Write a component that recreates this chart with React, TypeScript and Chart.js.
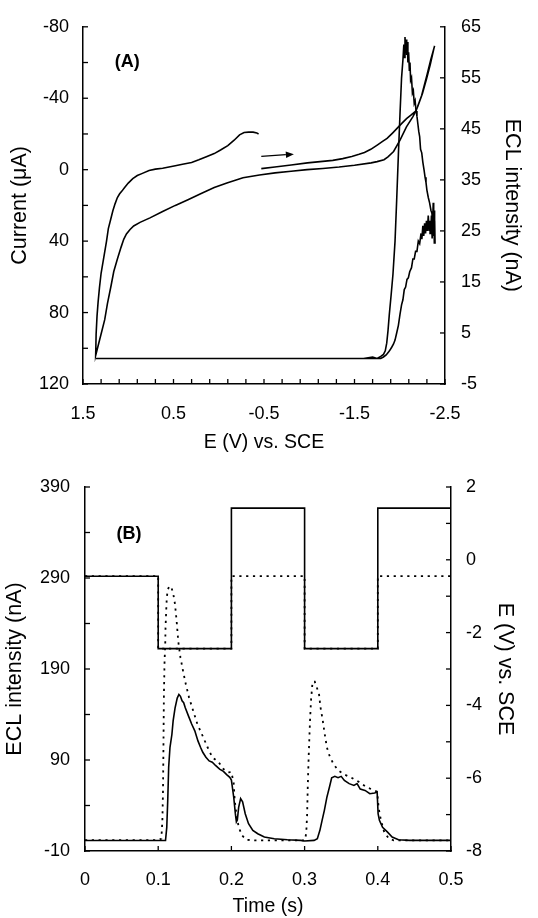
import React, { useEffect, useRef } from 'react';
import { Chart, registerables } from 'chart.js';

Chart.register(...registerables);

// ---------------- Panel (A): cyclic voltammogram + ECL vs potential ----------------
// Scan order: start -0.47 V -> -2.385 V -> +1.36 V -> -0.44 V
const cvPotential = [
  -0.47, -0.62, -0.8, -0.98, -1.12, -1.26, -1.37, -1.47, -1.55, -1.61, -1.68, -1.755, -1.81, -1.86, -1.92, -1.97, -2.02, -2.075, -2.13, -2.18,
  -2.242, -2.303, -2.344, -2.385,
  -2.376, -2.338, -2.297, -2.25, -2.2, -2.18, -2.144, -2.074, -2.003, -1.932, -1.87, -1.826, -1.75, -1.684, -1.5, -1.33, -1.15, -0.976, -0.8, -0.622, -0.45, -0.268,
  -0.09, 0.05, 0.2, 0.34, 0.48, 0.62, 0.76, 0.87, 0.94, 0.98, 1.02, 1.05, 1.08, 1.12, 1.16, 1.19, 1.23, 1.26, 1.3, 1.335, 1.36,
  1.355, 1.345, 1.333, 1.318, 1.3, 1.28, 1.26, 1.24, 1.22, 1.195, 1.17, 1.145, 1.12, 1.095, 1.07, 1.04, 1.0, 0.95, 0.9, 0.85, 0.77, 0.7, 0.62, 0.55, 0.48,
  0.4, 0.3, 0.22, 0.13, 0.05, -0.02, -0.1, -0.17, -0.23, -0.28, -0.33, -0.38, -0.42, -0.44,
];
const cvCurrent = [
  -0.6, -1.5, -2.6, -3.8, -4.5, -5.2, -6.2, -7.4, -8.6, -9.6, -11.4, -13.9, -15.8, -17.5, -20.5, -23.1, -25.8, -28.6, -30.8, -33.0,
  -41.5, -53.5, -61.8, -69.3,
  -67.5, -59, -51, -42.5, -35.5, -33, -29.6, -24, -16.6, -10.2, -7.2, -5.6, -4.5, -3.8, -2.5, -1.5, -0.7, -0.05, 0.9, 1.8, 3.0, 4.5,
  7.4, 10, 13.5, 16.8, 20, 23.4, 27, 29.5, 31.5, 33.5, 36, 39, 43.5, 50, 57, 65, 75, 84, 92, 99, 104,
  92, 82, 74, 66, 58, 52, 46, 40, 33, 28, 23, 19, 15.6, 13.5, 12, 10, 7.5, 5, 3.3, 2.2, 0.5, -0.3, -0.8, -1.5, -2.2,
  -3, -4, -5.5, -7.4, -9, -11, -13.5, -16.5, -19.5, -20.8, -21, -21, -20.6, -20,
];

const eclPotentialA = [
  -0.47, -0.9, -1.3, -1.6, -1.7, -1.75, -1.79, -1.82, -1.84, -1.856, -1.87, -1.885, -1.905, -1.925, -1.948, -1.966, -1.985, -2.003, -2.02, -2.035,
  -2.045, -2.052, -2.058, -2.064, -2.07, -2.077, -2.084, -2.09, -2.098, -2.106, -2.113, -2.12, -2.13, -2.14, -2.15, -2.16, -2.17, -2.18, -2.19, -2.2,
  -2.21, -2.22, -2.23, -2.243, -2.255, -2.268, -2.28, -2.29, -2.3, -2.316, -2.33, -2.345, -2.355, -2.364, -2.37, -2.375, -2.38, -2.385, -2.39,
  -2.386, -2.382, -2.377, -2.372, -2.365, -2.358, -2.35, -2.342, -2.335, -2.325, -2.315, -2.305, -2.295, -2.285, -2.275, -2.265, -2.255, -2.245, -2.235, -2.22,
  -2.205, -2.19, -2.175, -2.16, -2.145, -2.13, -2.11, -2.095, -2.08, -2.065, -2.05, -2.035, -2.02, -2.003, -1.985, -1.966, -1.948, -1.93, -1.911, -1.89,
  -1.874, -1.85, -1.82, -1.79, -1.6, -1.3, -1.0, -0.6, -0.2, 0.2, 0.6, 0.9, 1.2, 1.36, 0.5, -0.45,
];
const eclIntensityA = [
  0, 0, 0, 0, 0.3, 0, 0.4, 0.8, 1.5, 3, 5.4, 8.7, 12.5, 16.5, 23, 31, 40, 48, 55, 58.5,
  61.5, 59, 63, 60, 62.5, 59.5, 62, 58, 60, 56.5, 58, 54.5, 55, 52, 52.5, 50, 50.5, 48.5, 47.5, 46,
  44.5, 43.5, 41, 40.3, 38.5, 37, 35.5, 34.5, 33, 31.5, 30.5, 29, 28.5, 27, 30.5, 25, 29, 23, 22.5,
  27, 22.5, 28.5, 24, 27.5, 23.5, 28, 24.5, 27, 25, 28, 25, 27, 24.5, 26.5, 24, 26, 23.5, 24.5, 22.5,
  23, 21, 21, 19.5, 19.5, 17.8, 17, 15.8, 15.5, 14, 13.5, 11.5, 10.5, 8.7, 6.5, 5, 3.6, 2.8, 2.2, 1.6,
  1.2, 0.7, 0.3, 0, 0, 0, 0, 0, 0, 0, 0, 0, 0, 0, 0, 0,
];

const scanArrowFrom = { x: -0.47, y: -7.4 };
const scanArrowTo = { x: -0.83, y: -8.7 };
const labelAPos = { x: 1.15, y: -60 };

// ---------------- Panel (B): potential steps + ECL transients ----------------
const stepTimes = [0, 0.1, 0.1, 0.2, 0.2, 0.3, 0.3, 0.4, 0.4, 0.5];
const solidPotential = [-0.45, -0.45, -2.44, -2.44, 1.42, 1.42, -2.44, -2.44, 1.42, 1.42];
const dottedPotential = [-0.45, -0.45, -2.44, -2.44, -0.45, -0.45, -2.44, -2.44, -0.45, -0.45];

const solidTime = [
  0, 0.05, 0.1, 0.11, 0.1117, 0.113, 0.1143, 0.1161, 0.1187, 0.1204, 0.123, 0.126, 0.1283, 0.1304, 0.1326, 0.1348, 0.137, 0.1413, 0.1457, 0.15,
  0.1543, 0.1578, 0.1609, 0.1652, 0.1696, 0.1739, 0.1783, 0.1839, 0.1891, 0.1935, 0.1978, 0.2, 0.2032, 0.2054, 0.2068, 0.2081, 0.2099, 0.2126, 0.2153, 0.2189,
  0.2234, 0.2293, 0.236, 0.245, 0.2586, 0.2766, 0.2946, 0.3, 0.313, 0.3174, 0.3209, 0.3239, 0.327, 0.3304, 0.3339, 0.337, 0.3413, 0.3457, 0.35, 0.3543,
  0.3609, 0.3674, 0.3717, 0.376, 0.3826, 0.3891, 0.3957, 0.3991, 0.4004, 0.4022, 0.4065, 0.413, 0.4196, 0.4283, 0.4435, 0.5,
];
const solidEcl = [
  1.5, 1.5, 1.5, 1.7, 16, 45, 82, 104, 118, 133, 147, 158, 162, 160, 155, 153, 147.5, 138.5, 129.5, 122,
  111, 104, 98.5, 93, 89, 87.5, 84, 80, 77.5, 74, 71, 68, 49, 31, 22, 24, 38, 47.5, 44, 31,
  20, 12.7, 9, 5.4, 3.5, 2.4, 1.7, 1, 1.7, 3.5, 12.7, 23.7, 34.7, 49, 60, 70.5, 72, 70.5, 72, 67.6,
  64, 62, 64, 58, 56.6, 53, 53.7, 54.8, 31, 23.7, 16, 11, 5.4, 2.4, 1.7, 1.7,
];

const dottedTime = [
  0, 0.1, 0.1043, 0.1057, 0.1065, 0.107, 0.1074, 0.1078, 0.1087, 0.1096, 0.11, 0.1109, 0.1117, 0.113, 0.1152, 0.1178, 0.1204, 0.123, 0.1252, 0.1274,
  0.1304, 0.1339, 0.1378, 0.1422, 0.1478, 0.1535, 0.1596, 0.1674, 0.1739, 0.1826, 0.1891, 0.1957, 0.2, 0.2032, 0.2045, 0.2068, 0.2099, 0.2144, 0.2203, 0.2315,
  0.3, 0.3022, 0.3035, 0.3043, 0.3057, 0.3074, 0.3087, 0.3109, 0.3139, 0.3165, 0.3196, 0.3217, 0.3248, 0.3274, 0.3304, 0.3339, 0.3391, 0.3457, 0.3543, 0.363,
  0.3739, 0.3848, 0.3957, 0.3991, 0.4013, 0.4043, 0.4087, 0.4152, 0.4217, 0.5,
];
const dottedEcl = [
  2, 2, 3.5, 23.5, 53, 89, 126, 162, 199, 217, 235, 253.5, 268, 277, 281, 280, 273.5, 261, 242.5, 220.5,
  202.5, 188, 173, 158.5, 144, 129.5, 118.5, 104, 93, 87.5, 80, 76.5, 76.7, 64, 45.6, 31, 16.4, 7.2, 2.4, 1.7,
  1.7, 9, 31, 60, 97, 133, 155, 176, 176, 170, 163, 148, 133.5, 119, 104, 95, 86, 78.6, 74, 71,
  66, 60, 56.6, 55, 36.5, 23.7, 11, 3.5, 1.7, 1.7,
];
const labelBPos = { x: 0.043, y: 338 };

// ---------------- helpers ----------------
const FONT = "'Liberation Sans', Arial, Helvetica, sans-serif";
const pts = (xs: number[], ys: number[]) => xs.map((x, i) => ({ x, y: ys[i] }));
const fmt = (v: number | string) => String(Math.round(Number(v) * 100) / 100);

type TickSpec = { id: string; step: number };
function innerTicksPlugin(specs: TickSpec[], len = 5) {
  return {
    id: 'innerTicks',
    afterDraw(chart: any) {
      const { ctx, chartArea } = chart;
      ctx.save();
      ctx.strokeStyle = '#000';
      ctx.lineWidth = 1.3;
      for (const s of specs) {
        const scale = chart.scales[s.id];
        const n = Math.round((scale.max - scale.min) / s.step);
        for (let i = 0; i <= n; i++) {
          const v = scale.min + i * s.step;
          const p = scale.getPixelForValue(v);
          ctx.beginPath();
          if (scale.isHorizontal()) {
            ctx.moveTo(p, chartArea.bottom);
            ctx.lineTo(p, chartArea.bottom - len);
          } else if (scale.position === 'left') {
            ctx.moveTo(chartArea.left, p);
            ctx.lineTo(chartArea.left + len, p);
          } else {
            ctx.moveTo(chartArea.right, p);
            ctx.lineTo(chartArea.right - len, p);
          }
          ctx.stroke();
        }
      }
      ctx.restore();
    },
  };
}

function annotationPlugin(label: string, pos: { x: number; y: number }, yId: string, arrow?: { from: { x: number; y: number }; to: { x: number; y: number } }) {
  return {
    id: 'panelAnnotations',
    afterDatasetsDraw(chart: any) {
      const { ctx } = chart;
      const xs = chart.scales.x;
      const ys = chart.scales[yId];
      ctx.save();
      ctx.fillStyle = '#000';
      ctx.font = `bold 18px ${FONT}`;
      ctx.textAlign = 'left';
      ctx.textBaseline = 'middle';
      ctx.fillText(label, xs.getPixelForValue(pos.x), ys.getPixelForValue(pos.y));
      if (arrow) {
        const x1 = xs.getPixelForValue(arrow.from.x);
        const y1 = ys.getPixelForValue(arrow.from.y);
        const x2 = xs.getPixelForValue(arrow.to.x);
        const y2 = ys.getPixelForValue(arrow.to.y);
        const ang = Math.atan2(y2 - y1, x2 - x1);
        const hl = 8;
        const hw = 3.2;
        const bx = x2 - hl * Math.cos(ang);
        const by = y2 - hl * Math.sin(ang);
        ctx.strokeStyle = '#000';
        ctx.lineWidth = 1.2;
        ctx.beginPath();
        ctx.moveTo(x1, y1);
        ctx.lineTo(bx, by);
        ctx.stroke();
        ctx.beginPath();
        ctx.moveTo(x2, y2);
        ctx.lineTo(bx + hw * Math.sin(ang), by - hw * Math.cos(ang));
        ctx.lineTo(bx - hw * Math.sin(ang), by + hw * Math.cos(ang));
        ctx.closePath();
        ctx.fill();
      }
      ctx.restore();
    },
  };
}

const tickFont = { family: FONT, size: 18 };
const hTitleFont = { family: FONT, size: 19.5 };
const vTitleFont = { family: FONT, size: 21.5 };
const border = { display: true, color: '#000', width: 1.5 };
const grid = { display: false, drawTicks: false };

function topConfig(): any {
  return {
    type: 'line',
    data: {
      datasets: [
        { data: pts(cvPotential, cvCurrent), yAxisID: 'y', borderColor: '#000', borderWidth: 1.6, pointRadius: 0, tension: 0, fill: false },
        { data: pts(eclPotentialA, eclIntensityA), yAxisID: 'y1', borderColor: '#000', borderWidth: 1.6, pointRadius: 0, tension: 0, fill: false },
      ],
    },
    options: {
      animation: false,
      responsive: false,
      devicePixelRatio: 1,
      events: [],
      layout: { padding: { top: 22, left: 0, right: 0, bottom: 0 } },
      plugins: { legend: { display: false }, tooltip: { enabled: false } },
      scales: {
        x: {
          type: 'linear', position: 'bottom', min: -2.5, max: 1.5, reverse: true,
          grid, border,
          ticks: { stepSize: 1, padding: 19, color: '#000', font: tickFont, maxRotation: 0, autoSkip: false, callback: fmt },
          title: { display: true, text: 'E (V) vs. SCE', color: '#000', font: hTitleFont, padding: { top: 0, bottom: 5 } },
          afterFit: (s: any) => { s.height = 75; },
        },
        y: {
          type: 'linear', position: 'left', min: -80, max: 120, reverse: true,
          grid, border,
          ticks: { stepSize: 40, padding: 14, color: '#000', font: tickFont, autoSkip: false, callback: fmt },
          title: { display: true, text: 'Current (μA)', color: '#000', font: vTitleFont, padding: { top: 7, bottom: 0 } },
          afterFit: (s: any) => { s.width = 83; },
        },
        y1: {
          type: 'linear', position: 'right', min: -5, max: 65,
          grid, border,
          ticks: { stepSize: 10, padding: 16, color: '#000', font: tickFont, autoSkip: false, callback: fmt },
          title: { display: true, text: 'ECL intensity (nA)', color: '#000', font: vTitleFont, padding: { top: 13, bottom: 0 } },
          afterFit: (s: any) => { s.width = 93; },
        },
      },
    },
    plugins: [
      innerTicksPlugin([{ id: 'x', step: 0.2 }, { id: 'y', step: 20 }, { id: 'y1', step: 10 }]),
      annotationPlugin('(A)', labelAPos, 'y', { from: scanArrowFrom, to: scanArrowTo }),
    ],
  };
}

function bottomConfig(): any {
  const dot = [2.2, 4.6];
  return {
    type: 'line',
    data: {
      datasets: [
        { data: pts(stepTimes, solidPotential), yAxisID: 'y1', borderColor: '#000', borderWidth: 1.6, pointRadius: 0, tension: 0, fill: false },
        { data: pts(stepTimes, dottedPotential), yAxisID: 'y1', borderColor: '#000', borderWidth: 1.8, borderDash: dot, pointRadius: 0, tension: 0, fill: false },
        { data: pts(solidTime, solidEcl), yAxisID: 'y', borderColor: '#000', borderWidth: 1.6, pointRadius: 0, tension: 0, fill: false },
        { data: pts(dottedTime, dottedEcl), yAxisID: 'y', borderColor: '#000', borderWidth: 1.8, borderDash: dot, pointRadius: 0, tension: 0, fill: false },
      ],
    },
    options: {
      animation: false,
      responsive: false,
      devicePixelRatio: 1,
      events: [],
      layout: { padding: { top: 28, left: 0, right: 0, bottom: 0 } },
      plugins: { legend: { display: false }, tooltip: { enabled: false } },
      scales: {
        x: {
          type: 'linear', position: 'bottom', min: 0, max: 0.5,
          grid, border,
          ticks: { stepSize: 0.1, padding: 18, color: '#000', font: tickFont, maxRotation: 0, autoSkip: false, callback: fmt },
          title: { display: true, text: 'Time (s)', color: '#000', font: hTitleFont, padding: { top: 0, bottom: 0 } },
          afterFit: (s: any) => { s.height = 67; },
        },
        y: {
          type: 'linear', position: 'left', min: -10, max: 390,
          grid, border,
          ticks: { stepSize: 100, padding: 15, color: '#000', font: tickFont, autoSkip: false, callback: fmt },
          title: { display: true, text: 'ECL intensity (nA)', color: '#000', font: vTitleFont, padding: { top: 2, bottom: 0 } },
          afterFit: (s: any) => { s.width = 85; },
        },
        y1: {
          type: 'linear', position: 'right', min: -8, max: 2,
          grid, border,
          ticks: { stepSize: 2, padding: 15, color: '#000', font: tickFont, autoSkip: false, callback: fmt },
          title: { display: true, text: 'E (V) vs. SCE', color: '#000', font: vTitleFont, padding: { top: 20, bottom: 0 } },
          afterFit: (s: any) => { s.width = 87; },
        },
      },
    },
    plugins: [
      innerTicksPlugin([{ id: 'x', step: 0.1 }, { id: 'y', step: 50 }, { id: 'y1', step: 1 }]),
      annotationPlugin('(B)', labelBPos, 'y'),
    ],
  };
}

export default function App() {
  const topRef = useRef<HTMLCanvasElement>(null);
  const botRef = useRef<HTMLCanvasElement>(null);
  useEffect(() => {
    Chart.defaults.font.family = FONT;
    Chart.defaults.color = '#000';
    const c1 = new Chart(topRef.current as HTMLCanvasElement, topConfig());
    const c2 = new Chart(botRef.current as HTMLCanvasElement, bottomConfig());
    return () => {
      c1.destroy();
      c2.destroy();
    };
  }, []);
  return (
    <div style={{ position: 'absolute', left: 0, top: 0, width: 538, height: 918, background: '#fff' }}>
      <canvas ref={topRef} width={538} height={459} style={{ position: 'absolute', left: 0, top: 0, width: 538, height: 459 }} />
      <canvas ref={botRef} width={538} height={459} style={{ position: 'absolute', left: 0, top: 459, width: 538, height: 459 }} />
    </div>
  );
}
